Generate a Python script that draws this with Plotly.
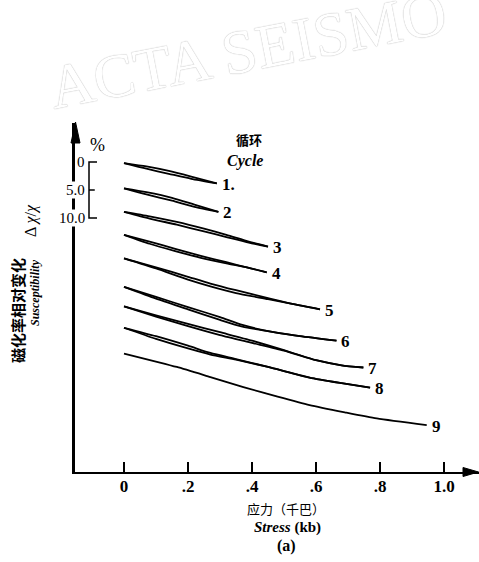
import plotly.graph_objects as go

# ---------------- data (stress in kb, susceptibility change in %) ----------------
cycle_labels = ["1.", "2", "3", "4", "5", "6", "7", "8", "9"]
cycle_offsets = [0.2, 4.7, 8.9, 13.0, 17.2, 22.3, 25.8, 29.6, 34.2]

c1_stress = [0, 0.07, 0.14, 0.21, 0.29]
c1_load = [0, 0.6, 1.4, 2.4, 3.6]
c1_unload = [0, 1.0, 1.9, 2.8, 3.6]

c2_stress = [0, 0.07, 0.15, 0.22, 0.295]
c2_load = [0, 0.7, 1.7, 2.9, 4.2]
c2_unload = [0, 1.1, 2.2, 3.3, 4.2]

c3_stress = [0, 0.08, 0.165, 0.25, 0.32, 0.39, 0.45]
c3_load = [0, 0.8, 1.8, 3.0, 4.1, 5.3, 6.2]
c3_unload = [0, 1.2, 2.3, 3.5, 4.5, 5.5, 6.2]

c4_stress = [0, 0.08, 0.16, 0.24, 0.32, 0.39, 0.446]
c4_load = [0, 1.2, 2.5, 3.75, 4.9, 5.9, 6.7]
c4_unload = [0, 1.6, 2.9, 4.1, 5.1, 5.9, 6.7]

c5_stress = [0, 0.1, 0.2, 0.27, 0.35, 0.45, 0.53, 0.6125]
c5_load = [0, 1.6, 3.3, 4.5, 5.7, 7.1, 8.2, 9.1]
c5_unload = [0, 1.8, 3.8, 5.0, 6.2, 7.3, 8.2, 9.1]

c6_stress = [0, 0.1, 0.2, 0.3, 0.37, 0.45, 0.55, 0.664]
c6_load = [0, 1.8, 3.6, 5.4, 6.8, 7.9, 8.8, 9.6]
c6_unload = [0, 2.1, 4.0, 5.9, 7.1, 7.9, 8.8, 9.6]

c7_stress = [0, 0.1, 0.2, 0.3, 0.4, 0.5, 0.6, 0.68, 0.748]
c7_load = [0, 1.6, 3.1, 4.6, 6.1, 7.8, 9.6, 10.5, 10.9]
c7_unload = [0, 1.8, 3.5, 5.1, 6.5, 7.9, 9.6, 10.5, 10.9]

c8_stress = [0, 0.1, 0.2, 0.27, 0.35, 0.45, 0.58, 0.68, 0.769]
c8_load = [0, 1.5, 3.2, 4.5, 5.6, 7.0, 8.9, 9.9, 10.7]
c8_unload = [0, 2.0, 3.7, 4.8, 5.7, 7.0, 8.9, 9.9, 10.7]

c9_stress = [0, 0.165, 0.27, 0.373, 0.48, 0.58, 0.69, 0.79, 0.946]
c9_load = [0, 2.4, 4.2, 6.0, 7.7, 9.2, 10.5, 11.6, 12.8]
c9_unload = None

x_tickvals = [0, 0.2, 0.4, 0.6, 0.8, 1.0]
x_ticktext = ["0", ".2", ".4", ".6", ".8", "1.0"]
scale_vals = [0, 5, 10]
scale_text = ["0", "5.0", "10.0"]

curves = [
    (c1_stress, c1_load, c1_unload), (c2_stress, c2_load, c2_unload),
    (c3_stress, c3_load, c3_unload), (c4_stress, c4_load, c4_unload),
    (c5_stress, c5_load, c5_unload), (c6_stress, c6_load, c6_unload),
    (c7_stress, c7_load, c7_unload), (c8_stress, c8_load, c8_unload),
    (c9_stress, c9_load, c9_unload),
]

# ---------------- axes geometry ----------------
W, H = 479, 562
X_RANGE = [-0.153125, 1.109375]
Y_RANGE = [55.357, -6.964]
SERIF = "Liberation Serif, Times New Roman, serif"
CJK = "Noto Sans CJK SC"

fig = go.Figure()

for (s, ld, ul), off in zip(curves, cycle_offsets):
    fig.add_trace(go.Scatter(x=s, y=[off + v for v in ld], mode="lines",
                             line=dict(color="black", width=1.8, shape="spline", smoothing=0.6),
                             hoverinfo="skip"))
    if ul is not None:
        fig.add_trace(go.Scatter(x=s, y=[off + v for v in ul], mode="lines",
                                 line=dict(color="black", width=1.8, shape="spline", smoothing=0.6),
                                 hoverinfo="skip"))

# scale bracket (0, 5, 10 %)
bx = -0.109375
fig.add_trace(go.Scatter(
    x=[bx + 0.025, bx, bx, bx + 0.025, None, bx, bx + 0.018],
    y=[scale_vals[0], scale_vals[0], scale_vals[2], scale_vals[2], None, scale_vals[1], scale_vals[1]],
    mode="lines", line=dict(color="black", width=1.5), hoverinfo="skip", cliponaxis=False))


def px(v):
    return v / W


def py(v):
    return 1 - v / H


# arrowheads on the axes (paper coordinates, at the axis ends)
fig.add_shape(type="path", xref="paper", yref="paper", layer="above",
              path=f"M {px(71)},{py(143)} L {px(75.5)},{py(122)} L {px(80)},{py(143)} Z",
              fillcolor="black", line=dict(color="black", width=1))
fig.add_shape(type="path", xref="paper", yref="paper", layer="above",
              path=f"M {px(463)},{py(467.5)} L {px(478.5)},{py(472)} L {px(463)},{py(476.5)} Z",
              fillcolor="black", line=dict(color="black", width=1))


def pann(x, y, text, size, family=SERIF, angle=0, weight="normal", color="black", **kw):
    return dict(x=px(x), y=py(y), xref="paper", yref="paper", text=text, showarrow=False,
                xanchor="center", yanchor="middle", textangle=angle,
                font=dict(family=family, size=size, color=color, weight=weight), **kw)


ann = []
# watermark (drawn first so it stays beneath other text)
wm = pann(247, 50, "ACTA SEISMO", 62, angle=-11, color="white")
wm["font"]["shadow"] = "0 0 1px #bdbdbd, 0 0 1px #bdbdbd"
ann.append(wm)

# curve labels
for (s, ld, ul), off, lab in zip(curves, cycle_offsets, cycle_labels):
    ann.append(dict(x=s[-1], y=off + ld[-1], text=lab, showarrow=False, xanchor="left", yanchor="middle",
                    xshift=3, yshift=-1, font=dict(family=SERIF, size=17, color="black", weight="bold")))

# scale labels
for v, t in zip(scale_vals, scale_text):
    ann.append(dict(x=-0.11875, y=v, text=t, showarrow=False, xanchor="right", yanchor="middle",
                    bgcolor="white" if v else None, borderpad=0,
                    font=dict(family=SERIF, size=15, color="black")))

ann += [
    pann(97, 145, "%", 18),
    pann(249, 139, "循环", 13, family=CJK, weight="bold"),
    pann(245, 161, "<b><i>Cycle</i></b>", 16),
    pann(286, 508, "应力（千巴）", 13, family=CJK),
    pann(287, 527, "<b><i>Stress</i> (kb)</b>", 15),
    pann(286, 546, "<b>(a)</b>", 16),
    pann(17, 311, "磁化率相对变化", 15, family=CJK, angle=-90, weight="bold"),
    pann(35, 293, "<b><i>Susceptibility</i></b>", 12, angle=-90),
    pann(31, 220, "Δ <i>χ</i>/<i>χ</i>", 16, angle=-90),
]

fig.update_layout(
    width=W, height=H, margin=dict(l=0, r=0, t=0, b=0),
    paper_bgcolor="white", plot_bgcolor="white", showlegend=False,
    xaxis=dict(domain=[75 / W, 1], range=X_RANGE, showline=True, linecolor="black", linewidth=2,
               ticks="inside", ticklen=10, tickwidth=2, tickcolor="black",
               tickvals=x_tickvals, ticktext=x_ticktext, showgrid=False, zeroline=False,
               ticklabelstandoff=-2,
               tickfont=dict(family=SERIF, size=17, color="black", weight="bold")),
    yaxis=dict(domain=[(H - 472) / H, (H - 123) / H], range=Y_RANGE, showline=True, linecolor="black",
               linewidth=2.5, showticklabels=False, ticks="", showgrid=False, zeroline=False),
    annotations=ann,
)

fig.write_html("out.html")
